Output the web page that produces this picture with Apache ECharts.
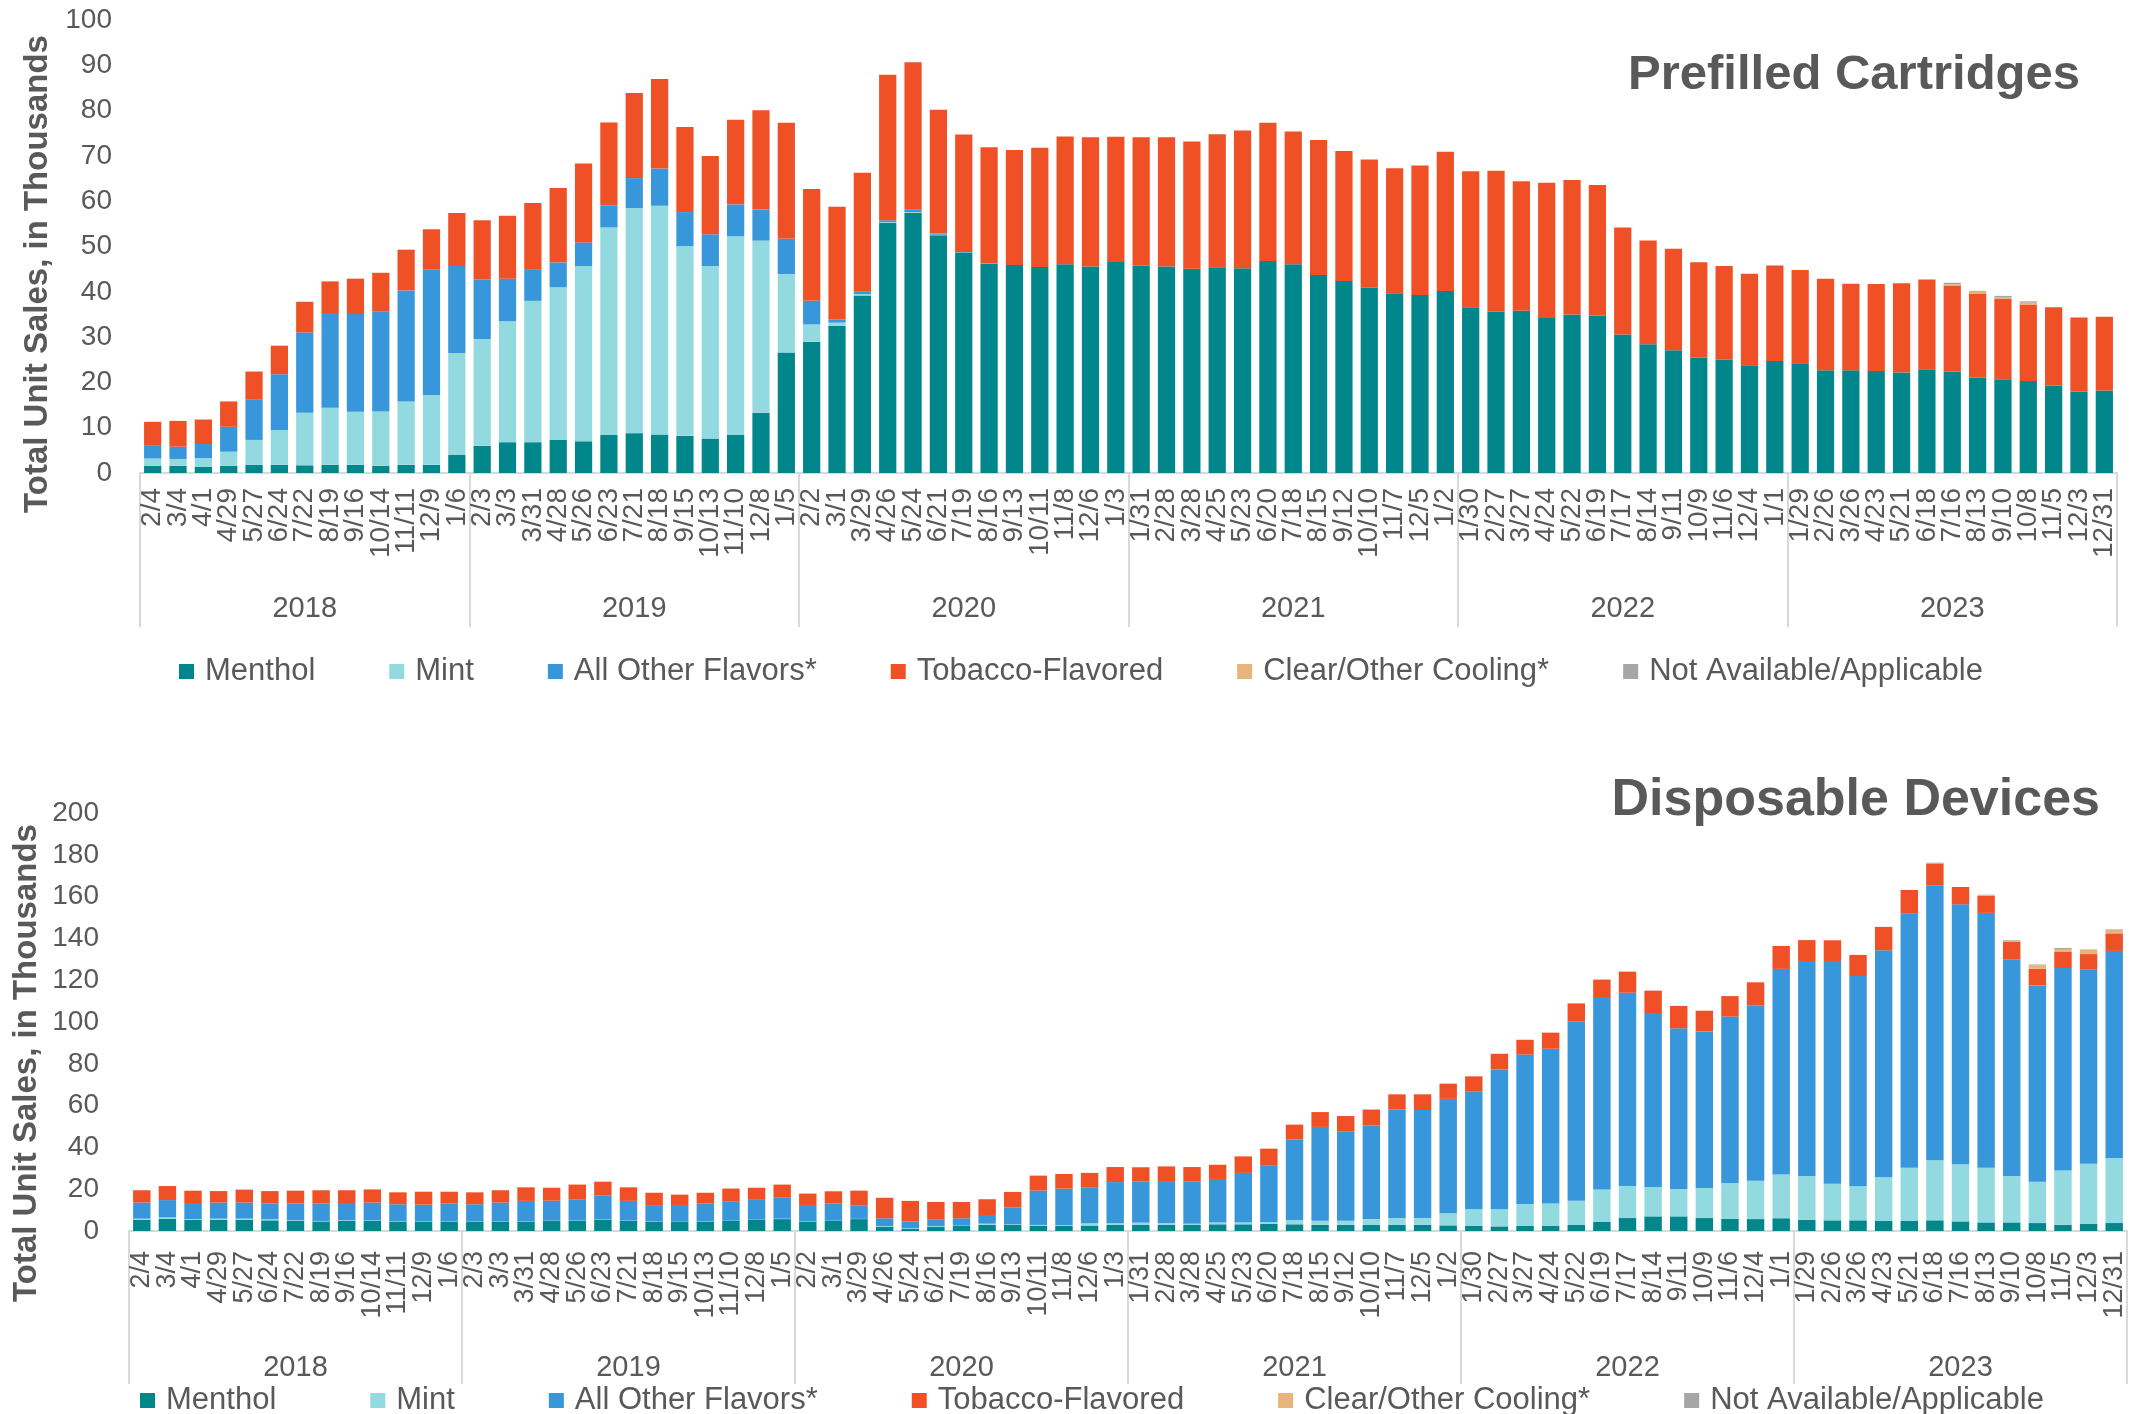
<!DOCTYPE html>
<html>
<head>
<meta charset="utf-8">
<script src="https://cdn.jsdelivr.net/npm/echarts@6/dist/echarts.min.js"></script>
<style>
html,body{margin:0;padding:0;background:#fff;}
#chart{width:2131px;height:1414px;}
</style>
</head>
<body>
<div id="chart"></div>
<script>
// ---------- categories ----------
const dates = [
 '2/4','3/4','4/1','4/29','5/27','6/24','7/22','8/19','9/16','10/14','11/11','12/9','1/6',
 '2/3','3/3','3/31','4/28','5/26','6/23','7/21','8/18','9/15','10/13','11/10','12/8','1/5',
 '2/2','3/1','3/29','4/26','5/24','6/21','7/19','8/16','9/13','10/11','11/8','12/6','1/3',
 '1/31','2/28','3/28','4/25','5/23','6/20','7/18','8/15','9/12','10/10','11/7','12/5','1/2',
 '1/30','2/27','3/27','4/24','5/22','6/19','7/17','8/14','9/11','10/9','11/6','12/4','1/1',
 '1/29','2/26','3/26','4/23','5/21','6/18','7/16','8/13','9/10','10/8','11/5','12/3','12/31'
];
const years = ['2018','2019','2020','2021','2022','2023'];
const seriesNames = ['Menthol','Mint','All Other Flavors*','Tobacco-Flavored','Clear/Other Cooling*','Not Available/Applicable'];

// ---------- Prefilled Cartridges (thousands) ----------
const cartMenthol = [
 1.6,1.6,1.4,1.6,1.8,1.8,1.7,1.8,1.8,1.6,1.8,1.8,4.0,
 6.0,6.8,6.8,7.3,7.0,8.4,8.8,8.5,8.2,7.6,8.4,13.3,26.6,
 29.0,32.5,39.2,55.2,57.4,52.5,48.7,46.2,45.9,45.5,46.1,45.6,46.6,
 45.8,45.6,45.1,45.4,45.2,46.8,46.1,43.7,42.4,40.9,39.7,39.3,40.2,
 36.6,35.6,35.8,34.2,35.0,34.7,30.6,28.4,27.1,25.5,25.0,23.8,24.7,
 24.2,22.7,22.7,22.5,22.2,22.9,22.4,21.1,20.7,20.3,19.3,18.0,18.2
];
const cartMint = [
 1.6,1.5,1.9,3.1,5.5,7.7,11.6,12.6,11.7,12.0,14.0,15.4,22.5,
 23.6,26.7,31.2,33.7,38.7,45.8,49.7,50.5,41.9,38.1,43.9,38.0,17.3,
 3.8,0.7,0.3,0.2,0.2,0.1,0,0,0,0,0,0,0,
 0,0,0,0,0,0,0,0,0,0,0,0,0,
 0,0,0,0,0,0,0,0,0,0,0,0,0,
 0,0,0,0,0,0,0,0,0,0,0,0,0
];
const cartOther = [
 2.8,2.7,3.1,5.5,9.0,12.3,17.7,20.9,21.6,22.1,24.5,27.7,19.2,
 13.1,9.4,7.0,5.5,5.2,4.9,6.6,8.2,7.5,7.0,7.0,6.9,7.8,
 5.2,0.7,0.5,0.4,0.5,0.3,0.1,0.1,0,0,0,0,0,
 0,0,0,0,0,0,0,0,0,0,0,0,0,
 0,0,0,0,0,0,0,0,0,0,0,0,0,
 0,0,0,0,0,0,0,0,0,0,0,0,0
];
const cartTobacco = [
 5.3,5.7,5.4,5.6,6.1,6.3,6.8,7.0,7.8,8.5,9.0,8.9,11.7,
 13.1,13.9,14.6,16.4,17.4,18.3,18.8,19.8,18.8,17.3,18.7,21.9,25.6,
 24.7,24.9,26.3,32.1,32.6,27.3,25.9,25.6,25.4,26.3,28.2,28.5,27.6,
 28.3,28.5,28.1,29.4,30.4,30.5,29.3,29.8,28.7,28.3,27.6,28.6,30.7,
 30.0,31.1,28.6,29.9,29.7,28.9,23.6,22.9,22.4,21.0,20.7,20.2,21.1,
 20.6,20.2,19.1,19.2,19.7,19.8,19.0,18.5,17.7,16.9,17.3,16.3,16.3
];
const cartClear = [
 0,0,0,0,0,0,0,0,0,0,0,0,0,
 0,0,0,0,0,0,0,0,0,0,0,0,0,
 0,0,0,0,0,0,0,0,0,0,0,0,0,
 0,0,0,0,0,0,0,0,0,0,0,0,0,
 0,0,0,0,0,0,0,0,0,0,0,0,0,
 0,0,0,0,0,0,0.3,0.4,0.3,0.4,0,0,0
];
const cartNA = [
 0,0,0,0,0,0,0,0,0,0,0,0,0,
 0,0,0,0,0,0,0,0,0,0,0,0,0,
 0,0,0,0,0,0,0,0,0,0,0,0,0,
 0,0,0,0,0,0,0,0,0,0,0,0,0,
 0,0,0,0,0,0,0,0,0,0,0,0,0,
 0,0,0,0,0,0,0.3,0.2,0.4,0.3,0,0,0
];

// ---------- Disposable Devices (thousands) ----------
const dispMenthol = [
 5.4,5.9,5.4,5.4,5.4,5.1,4.8,4.6,4.8,4.9,4.6,4.5,4.5,
 4.5,4.5,4.5,4.8,4.9,5.4,4.9,4.5,4.3,4.5,4.8,5.3,5.7,
 4.5,4.8,5.7,2.1,1.0,2.1,2.6,2.9,3.0,2.6,2.4,2.6,2.9,
 2.9,2.9,2.9,3.2,3.2,3.5,3.2,3.0,2.9,2.9,2.9,2.9,2.7,
 2.4,2.2,2.4,2.4,2.9,4.3,6.2,7.0,7.0,6.2,5.9,5.7,6.1,
 5.4,5.1,5.1,4.8,4.8,5.1,4.6,4.1,4.1,3.8,3.0,3.5,3.8
];
const dispMint = [
 0.5,0.6,0.3,0.5,0.5,0.5,0.3,0.2,0.3,0.2,0.2,0.1,0.1,
 0.1,0.1,0.1,0.1,0.1,0.1,0.1,0.1,0.1,0.1,0.1,0.1,0.2,
 0.1,0.1,0.1,0.3,0.3,0.3,0.1,0.6,0.2,0.3,0.3,1.1,0.8,
 1.1,0.9,0.6,0.9,0.9,0.8,1.9,1.9,2.0,2.8,3.3,3.3,5.8,
 8.0,8.2,10.5,10.8,11.6,15.6,15.3,14.1,13.1,14.4,17.1,18.4,20.9,
 20.9,17.5,16.3,20.9,25.5,28.7,27.3,26.2,22.2,19.8,26.0,28.7,31.1
];
const dispOther = [
 7.7,8.3,7.7,7.7,7.7,7.5,8.0,8.3,8.3,8.5,8.0,8.0,8.5,
 8.2,9.0,9.8,9.6,10.2,11.4,9.4,7.8,7.6,8.5,9.1,9.5,10.0,
 7.4,8.2,6.3,3.7,3.2,3.0,3.4,3.7,8.0,16.4,17.6,17.0,19.7,
 19.6,20.1,20.3,20.8,23.7,27.1,38.6,44.9,42.6,44.7,51.9,51.7,54.7,
 56.3,66.8,71.5,74.0,85.7,91.6,92.5,83.2,76.9,74.9,79.6,83.7,98.4,
 102.9,106.6,100.6,108.6,121.7,131.6,124.4,121.9,103.7,93.9,96.8,92.8,99.1
];
const dispTobacco = [
 5.9,6.7,5.9,5.5,6.2,6.0,6.2,6.4,6.1,6.3,5.7,6.2,5.7,
 5.7,5.9,6.5,6.2,7.0,6.7,6.5,5.9,5.4,5.2,6.3,5.8,6.3,
 5.9,5.9,7.2,9.8,9.9,8.5,7.8,8.0,7.5,7.2,7.0,7.1,7.2,
 6.9,7.0,6.8,6.8,7.9,8.0,7.2,7.1,7.5,7.7,7.3,7.5,7.3,
 7.3,7.6,7.1,7.7,8.7,8.8,10.1,10.7,10.7,9.9,9.8,11.2,11.0,
 10.0,9.9,10.1,11.2,11.2,10.4,8.3,8.1,8.3,8.0,7.7,7.5,8.4
];
const dispClear = [
 0,0,0,0,0,0,0,0,0,0,0,0,0,
 0,0,0,0,0,0,0,0,0,0,0,0,0,
 0,0,0,0,0,0,0,0,0,0,0,0,0,
 0,0,0,0,0,0,0,0,0,0,0,0,0,
 0,0,0,0,0,0,0,0,0,0,0,0,0,
 0,0,0,0,0,0,0,0.3,0.6,1.7,1.4,2.0,1.8
];
const dispNA = [
 0,0,0,0,0,0,0,0,0,0,0,0,0,
 0,0,0,0,0,0,0,0,0,0,0,0,0,
 0,0,0,0,0,0,0,0,0,0,0,0,0,
 0,0,0,0,0,0,0,0,0,0,0,0,0,
 0,0,0,0,0,0,0,0,0,0,0,0,0,
 0,0,0,0,0,0.4,0,0.3,0.3,0.3,0.5,0.2,0.2
];

// ---------- styling ----------
const colors = ['#00868B','#92DAE0','#3897DB','#F05025','#E8B47A','#A6A6A6'];
const FONT = 'Liberation Sans';
const TXT = '#595959';

const cartData = [cartMenthol,cartMint,cartOther,cartTobacco,cartClear,cartNA];
const dispData = [dispMenthol,dispMint,dispOther,dispTobacco,dispClear,dispNA];

function makeSeries(dataSets, xi, yi, stack){
  return dataSets.map((d,i)=>({
    name: seriesNames[i], type:'bar', stack: stack,
    xAxisIndex: xi, yAxisIndex: yi,
    barCategoryGap: '32%',
    itemStyle: {color: colors[i]},
    emphasis: {disabled: true},
    data: d
  }));
}

function dateAxis(gi, margin, fs){
  return {
    type:'category', gridIndex: gi, data: dates, position:'bottom',
    axisLine:{show:true, lineStyle:{color:'#D9D9D9', width:2}},
    axisTick:{show:false},
    axisLabel:{interval:0, rotate:90, margin: margin, fontSize: fs, fontFamily: FONT, color: TXT}
  };
}
function yearAxis(gi, tickLen, margin){
  return {
    type:'category', gridIndex: gi, data: years, position:'bottom',
    axisLine:{show:false},
    axisTick:{show:true, interval:0, length: tickLen, lineStyle:{color:'#D9D9D9', width:2}},
    axisLabel:{interval:0, margin: margin, fontSize: 29, fontFamily: FONT, color: TXT}
  };
}
function valAxis(gi, max, step, margin){
  return {
    type:'value', gridIndex: gi, min:0, max:max, interval: step,
    axisLine:{show:false}, axisTick:{show:false}, splitLine:{show:false},
    axisLabel:{margin: margin, fontSize: 28, fontFamily: FONT, color: TXT}
  };
}

const chart = echarts.init(document.getElementById('chart'), null, {renderer:'canvas'});
chart.setOption({
  animation:false,
  backgroundColor:'#ffffff',
  color: colors,
  title:[
    {text:'Prefilled Cartridges', right: 46, top: 46,
     textStyle:{fontFamily: FONT, fontWeight:'bold', fontSize: 49, color:'#595959'}},
    {text:'Disposable Devices', right: 26, top: 770,
     textStyle:{fontFamily: FONT, fontWeight:'bold', fontSize: 52, color:'#595959'}}
  ],
  legend:[
    {data: seriesNames, left: 174, top: 651, itemWidth:15, itemHeight:15, itemGap: 74,
     icon:'rect', selectedMode:false,
     textStyle:{fontFamily: FONT, fontSize: 31, color: TXT, padding:[0,0,0,6]}},
    {data: seriesNames, left: 135, top: 1380, itemWidth:15, itemHeight:15, itemGap: 94,
     icon:'rect', selectedMode:false,
     textStyle:{fontFamily: FONT, fontSize: 31, color: TXT, padding:[0,0,0,6]}}
  ],
  grid:[
    {left:140, right:14, top:20, height:453},
    {left:129, right:4, top:813, height:418}
  ],
  xAxis:[
    dateAxis(0, 15, 28), yearAxis(0, 154, 121),
    dateAxis(1, 20, 27), yearAxis(1, 153, 122)
  ],
  yAxis:[ valAxis(0, 100, 10, 28), valAxis(1, 200, 20, 30) ],
  graphic:[
    {type:'text', x: 38, y: 274, rotation: Math.PI/2,
     style:{text:'Total Unit Sales, in Thousands', fontFamily: FONT, fontWeight:'bold', fontSize: 33,
            fill: TXT, align:'center', verticalAlign:'middle'}},
    {type:'text', x: 27, y: 1063, rotation: Math.PI/2,
     style:{text:'Total Unit Sales, in Thousands', fontFamily: FONT, fontWeight:'bold', fontSize: 33,
            fill: TXT, align:'center', verticalAlign:'middle'}}
  ],
  series: [].concat(makeSeries(cartData, 0, 0, 'cart'), makeSeries(dispData, 2, 1, 'disp'))
});
</script>
</body>
</html>
